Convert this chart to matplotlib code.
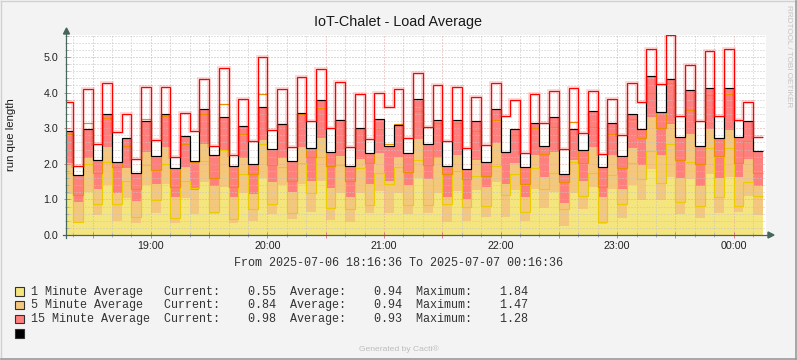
import numpy as np
import pandas as pd
import matplotlib
matplotlib.use("Agg")
import matplotlib.pyplot as plt
import matplotlib.dates as mdates
import matplotlib.patheffects as pe
from matplotlib.ticker import MultipleLocator, FuncFormatter
from matplotlib.patches import Polygon, Rectangle

# ---------------- data (5-minute steps starting 18:15) ----------------
start_time = "2025-07-06 18:15"
one_min = [1.14, 0.33, 1.22, 0.55, 1.40, 0.40, 1.03, 0.35, 1.40, 0.63,
           1.43, 0.33, 1.05, 0.59, 1.49, 0.59, 1.34, 0.35, 1.17, 0.39,
           1.59, 0.58, 1.40, 0.45, 1.42, 0.64, 1.52, 0.42, 1.17, 0.37,
           1.17, 0.61, 1.24, 0.63, 1.17, 0.58, 1.61, 0.61, 1.17, 0.37,
           1.25, 0.39, 1.26, 0.50, 1.50, 0.51, 1.26, 0.40, 1.28, 0.77,
           1.22, 0.26, 1.17, 0.73, 1.36, 0.30, 1.28, 0.49, 1.40, 0.98,
           1.84, 0.98, 1.64, 0.59, 1.56, 0.47, 1.70, 0.61, 1.64, 0.64,
           1.10, 0.55]
five_min = [0.87, 0.61, 0.93, 0.74, 1.08, 0.79, 0.84, 0.61, 0.94, 0.80,
            1.03, 0.73, 0.87, 0.67, 1.08, 0.79, 1.05, 0.73, 0.98, 0.75,
            1.08, 0.92, 0.77, 0.75, 1.04, 0.88, 1.21, 0.91, 1.05, 0.69,
            0.96, 0.81, 1.07, 0.90, 1.01, 0.82, 1.09, 0.97, 1.03, 0.71,
            1.00, 0.62, 0.85, 0.86, 1.09, 0.92, 0.77, 0.68, 0.97, 0.85,
            1.10, 0.63, 0.94, 0.80, 1.12, 0.78, 0.97, 0.81, 1.03, 1.00,
            1.47, 1.27, 1.47, 1.02, 1.27, 0.92, 1.27, 1.00, 1.31, 1.00,
            1.03, 0.84]
fifteen_min = [0.91, 0.74, 0.84, 0.81, 0.91, 0.87, 0.85, 0.77, 0.86, 0.78,
               0.93, 0.82, 0.85, 0.82, 0.96, 0.86, 0.92, 0.85, 0.90, 0.85,
               0.92, 0.92, 0.94, 0.87, 0.96, 0.92, 1.05, 0.99, 1.00, 0.88,
               0.87, 0.87, 0.94, 0.96, 0.92, 0.89, 1.11, 0.97, 1.03, 0.86,
               0.98, 0.83, 1.09, 0.68, 0.94, 0.91, 0.94, 0.83, 0.91, 0.87,
               0.99, 0.82, 0.87, 0.86, 0.99, 0.84, 0.91, 0.91, 0.96, 1.00,
               1.16, 1.20, 1.28, 1.13, 1.24, 1.10, 1.15, 1.11, 1.17, 1.10,
               1.07, 0.98]
# outline series (stacked levels as drawn)
yellow_line = [1.73, 0.37, 2.00, 0.86, 2.04, 0.86, 1.51, 0.50, 1.98, 0.97,
               1.99, 0.47, 1.51, 1.32, 2.07, 0.66, 2.40, 0.44, 1.71, 0.73,
               2.55, 0.86, 1.90, 0.61, 2.01, 1.19, 2.18, 0.75, 1.97, 0.72,
               1.87, 0.84, 1.73, 1.42, 1.90, 0.84, 2.11, 0.84, 2.20, 0.87,
               1.79, 0.78, 1.66, 0.81, 1.94, 1.12, 1.70, 0.64, 1.88, 1.29,
               1.73, 0.72, 2.05, 1.10, 1.73, 0.37, 1.68, 0.86, 2.01, 1.56,
               2.36, 1.45, 2.55, 0.92, 2.04, 0.81, 2.44, 1.06, 2.43, 0.81,
               1.48, 1.10]
orange_line = [2.84, 1.12, 3.16, 1.73, 3.28, 1.92, 2.49, 1.28, 3.25, 1.82,
               3.34, 1.34, 2.55, 2.06, 3.39, 1.59, 3.68, 1.36, 2.83, 1.71,
               3.95, 1.96, 3.11, 1.53, 3.39, 2.20, 3.56, 1.94, 3.22, 1.53,
               2.97, 2.01, 2.99, 2.57, 3.11, 1.76, 3.48, 1.96, 3.14, 1.71,
               3.14, 1.56, 2.92, 1.66, 3.22, 2.32, 2.82, 1.42, 3.00, 2.28,
               3.02, 1.50, 3.17, 2.01, 3.02, 1.36, 2.83, 1.88, 3.25, 2.72,
               4.00, 3.00, 4.26, 2.11, 3.51, 1.99, 3.92, 2.21, 3.96, 2.01,
               2.63, 1.73]
red_line = [3.75, 1.93, 4.09, 2.57, 4.26, 2.88, 3.39, 2.13, 4.15, 2.66,
            4.15, 2.20, 3.42, 2.91, 4.37, 2.49, 4.68, 2.24, 3.81, 2.63,
            4.99, 2.95, 4.09, 2.46, 4.43, 3.19, 4.65, 3.00, 4.29, 2.46,
            3.95, 2.69, 3.98, 3.59, 4.09, 2.72, 4.54, 3.02, 4.20, 2.63,
            4.15, 2.44, 3.87, 2.52, 4.26, 3.33, 3.78, 2.29, 3.95, 3.16,
            4.04, 2.41, 4.12, 2.86, 4.05, 2.28, 3.81, 2.80, 4.26, 3.74,
            5.22, 4.24, 5.61, 3.33, 4.77, 3.20, 5.17, 3.33, 5.22, 3.23,
            3.75, 2.74]

legend_names = ["1 Minute Average", "5 Minute Average", "15 Minute Average"]
cur_vals = [0.55, 0.84, 0.98]
avg_vals = [0.94, 0.94, 0.93]
max_vals = [1.84, 1.47, 1.28]
title = "IoT-Chalet - Load Average"
ylabel = "run que length"
range_text = "From 2025-07-06 18:16:36 To 2025-07-07 00:16:36"

# ---------------- styles ----------------
W, H = 797, 360
BG = "#F3F3F3"
Y_FILL, O_FILL, R_FILL = "#F4E57F", "#F4C77F", "#FF7F7F"
Y_LINE, O_LINE, R_LINE = "#EACC00", "#EA8F00", "#FF0000"
AX_COL = "#46665A"
GRID_MINOR = "#C6C6C6"
GRID_MAJOR = "#E6A3A3"
MONO = "Liberation Mono"
SANS = "Liberation Sans"

fig = plt.figure(figsize=(W / 100, H / 100), dpi=100, facecolor=BG)

L, R_, T, B = 66.5, 766.0, 35.0, 235.0
ax = fig.add_axes([L / W, 1 - B / H, (R_ - L) / W, (B - T) / H])
ax.set_facecolor("white")

edges = pd.date_range(start_time, periods=len(one_min) + 1, freq="5min")
xe = mdates.date2num(edges.to_pydatetime())

a1 = np.array(one_min)
a2 = a1 + np.array(five_min)
a3 = a2 + np.array(fifteen_min)

ax.stairs(a1, xe, baseline=0, fill=True, color=Y_FILL, lw=0, zorder=1)
ax.stairs(a2, xe, baseline=a1, fill=True, color=O_FILL, lw=0, zorder=1)
ax.stairs(a3, xe, baseline=a2, fill=True, color=R_FILL, lw=0, zorder=1)

LW = 0.85
ax.stairs(yellow_line, xe, baseline=None, color=Y_LINE, lw=LW, zorder=3)
ax.stairs(orange_line, xe, baseline=None, color=O_LINE, lw=LW, zorder=3.1)
ax.stairs(a3, xe, baseline=None, color="black", lw=LW, zorder=3.2)
ax.stairs(red_line, xe, baseline=None, color=R_LINE, lw=LW, zorder=3.3,
          path_effects=[pe.Stroke(linewidth=2.8, foreground=(1, 0, 0, 0.16)), pe.Normal()])

x0 = mdates.date2num(pd.Timestamp("2025-07-06 18:16:36").to_pydatetime())
x1 = mdates.date2num(pd.Timestamp("2025-07-07 00:16:36").to_pydatetime())
ax.set_xlim(x0, x1)
ax.set_ylim(0, 5.618)

ax.xaxis.set_major_locator(mdates.MinuteLocator(byminute=[0, 30]))
ax.xaxis.set_minor_locator(mdates.MinuteLocator(byminute=[0, 10, 20, 30, 40, 50]))
ax.xaxis.set_major_formatter(FuncFormatter(
    lambda v, p: mdates.num2date(v).strftime("%H:%M") if mdates.num2date(v).minute == 0 else ""))
ax.yaxis.set_major_locator(MultipleLocator(1.0))
ax.yaxis.set_minor_locator(MultipleLocator(0.2))
ax.yaxis.set_major_formatter(FuncFormatter(lambda v, p: f"{v:.1f}"))

dash = (0, (1.0, 2.0))
ax.set_axisbelow(False)
ax.grid(which="minor", color=GRID_MINOR, linestyle=dash, lw=0.72)
ax.grid(which="major", color=GRID_MAJOR, linestyle=dash, lw=0.72)

for s in ax.spines.values():
    s.set_visible(False)
ax.tick_params(which="major", direction="inout", length=4, width=0.72, color="#E08080",
               labelsize=7.7, labelcolor="#222222", pad=4)
ax.tick_params(which="minor", direction="inout", length=2.5, width=0.72, color="#B0B0B0")
for lab in ax.get_xticklabels() + ax.get_yticklabels():
    lab.set_family(SANS)
ax.tick_params(axis="x", pad=2)

# ---------------- overlay in pixel coordinates ----------------
ov = fig.add_axes([0, 0, 1, 1], facecolor="none")
ov.set_xlim(0, W)
ov.set_ylim(H, 0)
ov.axis("off")

# axes lines + arrows
ov.plot([L, L], [B + 3, T - 1], color=AX_COL, lw=0.9)
ov.plot([L - 3, R_ + 3], [B, B], color=AX_COL, lw=0.9)
ov.add_patch(Polygon([[L - 3, T - 1], [L + 3, T - 1], [L, T - 7]], closed=True, color=AX_COL))
ov.add_patch(Polygon([[R_ + 2, B - 3], [R_ + 2, B + 3], [R_ + 8, B]], closed=True, color=AX_COL))

# border
ov.plot([0.5, W - 0.5], [0.5, 0.5], color="#D0D0D0", lw=1)
ov.plot([0.5, 0.5], [0.5, H - 0.5], color="#D0D0D0", lw=1)
ov.plot([0.5, W - 0.5], [H - 0.7, H - 0.7], color="#9A9A9A", lw=1.2)
ov.plot([W - 0.7, W - 0.7], [0.5, H - 0.5], color="#9A9A9A", lw=1.2)

ov.text(W / 2, 22, title, ha="center", va="center", fontsize=10.4, family=SANS, color="#1a1a1a")
ov.text(11, 135, ylabel, ha="center", va="center", rotation=90, fontsize=8.2, family=SANS, color="#1a1a1a")
ov.text(789, 56, "RRDTOOL / TOBI OETIKER", ha="center", va="center", rotation=-90,
        fontsize=5.9, family=SANS, color="#C4C4C4")
ov.text(W / 2, 263, range_text, ha="center", va="center", fontsize=8.5, family=MONO, color="#333333")

rows_y = [291.5, 305.0, 318.7]
fills = [Y_FILL, O_FILL, R_FILL]
for yy, name, c, cu, av, mx in zip(rows_y, legend_names, fills, cur_vals, avg_vals, max_vals):
    ov.add_patch(Rectangle((15.3, yy - 4.2), 8.4, 8.4, facecolor=c, edgecolor="#303030", lw=0.8))
    s = f"{name:<19s}Current:{cu:8.2f}  Average:{av:8.2f}  Maximum:{mx:8.2f}"
    ov.text(30.6, yy, s, ha="left", va="center", fontsize=8.5, family=MONO, color="#333333")
ov.add_patch(Rectangle((15.3, 333.5 - 4.2), 8.4, 8.4, facecolor="black", edgecolor="#303030", lw=0.8))

ov.text(W / 2, 349, "Generated by Cacti®", ha="center", va="center", fontsize=6.1, family=SANS,
        color="#BDBDBD")

fig.savefig("out.png", dpi=100, facecolor=BG)
